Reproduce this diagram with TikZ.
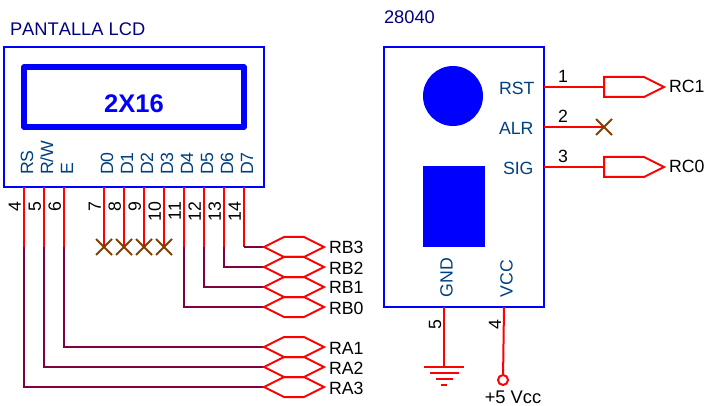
\documentclass[tikz,border=0pt]{standalone}
\usepackage{fontspec}
\setmainfont{Liberation Sans}
\definecolor{boxblue}{RGB}{0,0,255}
\definecolor{titleblue}{RGB}{0,0,128}
\definecolor{pinblue}{RGB}{0,64,128}
\definecolor{wirered}{RGB}{255,0,0}
\definecolor{maroon}{RGB}{128,0,64}
\definecolor{xbrown}{RGB}{128,64,0}
\tikzset{
  every node/.style={inner sep=0pt,outer sep=0pt,font=\fontsize{17.7}{20}\selectfont},
  titletext/.style={text=titleblue,anchor=base west,font=\fontsize{18.3}{20}\selectfont\addfontfeature{Kerning=Off}},
  pinname/.style={text=pinblue,anchor=base west},
  pinnamev/.style={text=pinblue,rotate=90,anchor=base west},
  pinnum/.style={text=black,rotate=90,anchor=base east},
  pinnumh/.style={text=black,anchor=base},
  sig/.style={text=black,anchor=base west},
  frame/.style={draw=boxblue,line width=2pt},
  redwire/.style={draw=wirered,line width=2pt},
  darkwire/.style={draw=maroon,line width=2pt},
  portshape/.style={draw=wirered,line width=2pt,line join=miter},
  xmark/.style={draw=xbrown,line width=2pt},
}
\begin{document}
\begin{tikzpicture}[x=1pt,y=-1pt]
\useasboundingbox (0,0) rectangle (707,406);
% LCD
\node[titletext] (lcdtitle) at (10,36) {PANTALLA LCD};
\draw[frame] (4,47) rectangle (264,187);
\draw[draw=boxblue,line width=5.5pt,line join=round] (24,67) rectangle (244,127);
\node[text=boxblue,anchor=base,font=\fontsize{25.5}{28}\selectfont\bfseries] (lcdsize) at (134,113) {2X16};
% pins of the LCD
\foreach \id/\x/\nm/\n in {rs/24/RS/4,rw/44/R\slash W/5,e/64/E/6,dz/104/D0/7,da/124/D1/8,db/144/D2/9,dc/164/D3/10,dd/184/D4/11,de/204/D5/12,df/224/D6/13,dg/244/D7/14}{
  \coordinate (p\id) at (\x,187);
  \coordinate (k\id) at (\x,247);
  \node[pinnamev] (name\id) at (\x+9,175) {\nm};
  \node[pinnum] (num\id) at (\x-3.2,202) {\n};
  \draw[redwire] (p\id) -- (k\id);
}
% no-connect marks
\foreach \id in {dz,da,db,dc}{
  \draw[xmark] ([shift={(-8,-8)}]k\id) -- ([shift={(8,8)}]k\id)
               ([shift={(-8,8)}]k\id) -- ([shift={(8,-8)}]k\id);
}
% ports
\foreach \id/\y/\lb/\src in {bc/247/RB3/dg,bb/267/RB2/df,ba/287/RB1/de,bz/307/RB0/dd,aa/347/RA1/e,ab/367/RA2/rw,ac/387/RA3/rs}{
  \coordinate (h\id) at (264,\y);
  \draw[darkwire] (k\src) |- (h\id);
  \draw[portshape] (h\id) -- ++(20,-10) -- ++(20,0) -- ++(20,10) -- ++(-20,10) -- ++(-20,0) -- cycle;
  \node[sig] (l\id) at (329,\y+7) {\lb};
}
% sensor
\node[titletext] (senstitle) at (384,24) {28040};
\draw[frame] (384,47) rectangle (544,307);
\fill[boxblue] (453,96) circle (30);
\fill[boxblue] (423,166) rectangle (485,247);
\node[pinname] (nrst) at (499,95) {RST};
\node[pinname] (nalr) at (499,135) {ALR};
\node[pinname] (nsig) at (503,175) {SIG};
\node[pinnamev] (ngnd) at (452.5,297) {GND};
\node[pinnamev] (nvcc) at (512.5,297) {VCC};
\coordinate (prst) at (544,87);
\coordinate (palr) at (544,127);
\coordinate (psig) at (544,167);
\coordinate (xalr) at (604,127);
\coordinate (crst) at (604,87);
\coordinate (csig) at (604,167);
\draw[redwire] (prst) -- (crst);
\draw[redwire] (palr) -- (xalr);
\draw[redwire] (psig) -- (csig);
\draw[xmark] ([shift={(-8,-8)}]xalr) -- ([shift={(8,8)}]xalr)
             ([shift={(-8,8)}]xalr) -- ([shift={(8,-8)}]xalr);
\foreach \c in {crst,csig}{
  \draw[portshape] ([yshift=-10pt]\c) -- ++(40,0) -- ++(20,-10) -- ++(-20,-10) -- ++(-40,0) -- cycle;
}
\node[sig] (lrc1) at (669,93) {RC1};
\node[sig] (lrc0) at (669,173) {RC0};
\node[pinnumh] (n1) at (563,83) {1};
\node[pinnumh] (n2) at (563,123) {2};
\node[pinnumh] (n3) at (563,163) {3};
% ground
\coordinate (pgnd) at (444,307);
\coordinate (gnd) at (444,367);
\draw[redwire] (pgnd) -- (gnd);
\draw[redwire] (424,367) -- (464,367) (430,373) -- (459,373) (436,379) -- (453,379) (441,385) -- (447,385);
\node[pinnum] (n5) at (441,320) {5};
% vcc
\coordinate (pvcc) at (504,307);
\node[circle,draw=wirered,line width=2pt,minimum size=10pt] (vcc) at (503,380) {};
\draw[redwire] (pvcc) -- (vcc);
\node[pinnum] (n4) at (501,320) {4};
\node[text=black,anchor=base,font=\fontsize{18.3}{20}\selectfont] (vcclabel) at (513,403) {+5 Vcc};
\end{tikzpicture}
\end{document}
